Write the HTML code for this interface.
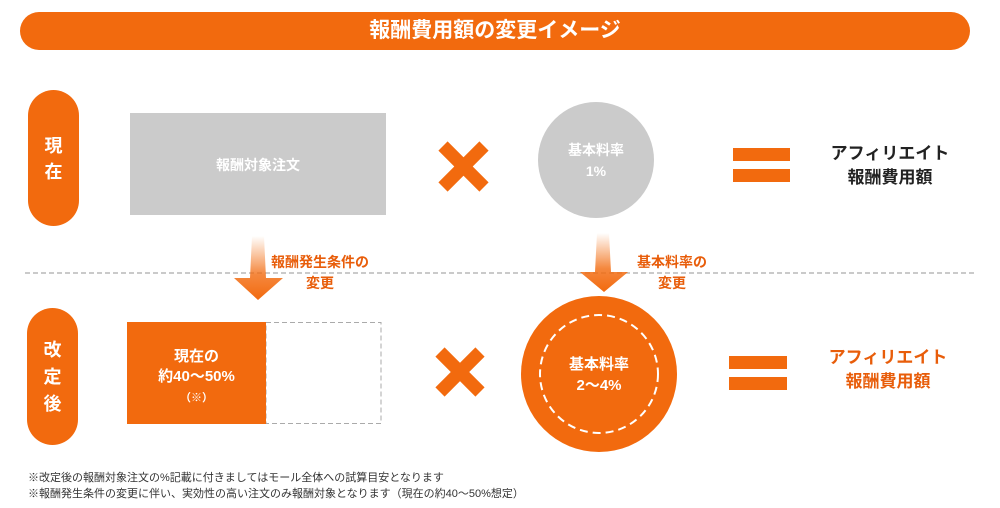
<!DOCTYPE html>
<html><head><meta charset="utf-8"><style>
body{margin:0;width:1000px;height:508px;background:#fff;overflow:hidden;font-family:"Liberation Sans","Noto Sans CJK JP",sans-serif;}
.a{position:absolute}
</style></head><body>
<svg class="a" style="left:0;top:0" width="1000" height="508" viewBox="0 0 1000 508">
<defs>
<linearGradient id="g" x1="0" y1="0" x2="0" y2="1"><stop offset="0" stop-color="#f26a0e" stop-opacity="0"/><stop offset="0.6" stop-color="#f26a0e" stop-opacity="0.8"/><stop offset="1" stop-color="#f26a0e"/></linearGradient>
</defs>
<rect x="20" y="12" width="950" height="38" rx="19" fill="#f26a0e"/>
<rect x="28" y="90" width="51" height="136" rx="25.5" fill="#f26a0e"/>
<rect x="27" y="308" width="51" height="137" rx="25.5" fill="#f26a0e"/>
<rect x="130" y="113" width="256" height="102" fill="#cbcbcb"/>
<circle cx="596" cy="160" r="58" fill="#cbcbcb"/>
<g stroke="#f26a0e" stroke-width="13"><line x1="443" y1="146" x2="484" y2="187"/><line x1="484" y1="146" x2="443" y2="187"/>
<line x1="440" y1="352" x2="480" y2="392"/><line x1="480" y1="352" x2="440" y2="392"/></g>
<rect x="733" y="148" width="57" height="13" fill="#f26a0e"/><rect x="733" y="169" width="57" height="13" fill="#f26a0e"/>
<rect x="729" y="356" width="58" height="13" fill="#f26a0e"/><rect x="729" y="377" width="58" height="13" fill="#f26a0e"/>
<line x1="25" y1="273" x2="975" y2="273" stroke="#aaa" stroke-width="1.2" stroke-dasharray="5,3"/>
<path d="M252 236 L264 236 L266 278 L283 278 L258 300 L234 278 L250 278 Z" fill="url(#g)"/>
<path d="M597 233 L609 233 L611 272 L628 272 L604 292 L580 272 L595 272 Z" fill="url(#g)"/>
<rect x="266" y="322.5" width="115" height="101" fill="none" stroke="#aaa" stroke-dasharray="5,3"/>
<rect x="127" y="322" width="139" height="102" fill="#f26a0e"/>
<circle cx="599" cy="374" r="78" fill="#f26a0e"/>
<circle cx="599" cy="374" r="59" fill="none" stroke="#fff" stroke-width="2" stroke-dasharray="8,5"/>
</svg>
<div class="a" style="left:20px;top:12px;width:950px;line-height:38px;text-align:center;color:#fff;font-weight:bold;font-size:21px">報酬費用額の変更イメージ</div>
<div class="a" style="left:28px;top:133px;width:51px;text-align:center;color:#fff;font-weight:bold;font-size:18px;line-height:26px">現<br>在</div>
<div class="a" style="left:27px;top:337px;width:51px;text-align:center;color:#fff;font-weight:bold;font-size:18px;line-height:27px">改<br>定<br>後</div>
<div class="a" style="left:130px;top:155px;width:256px;text-align:center;color:#fff;font-weight:bold;font-size:14px">報酬対象注文</div>
<div class="a" style="left:538px;top:140px;width:116px;text-align:center;color:#fff;font-weight:bold;font-size:14px;line-height:21px">基本料率<br>1%</div>
<div class="a" style="left:822px;top:142px;width:136px;text-align:center;color:#222;font-weight:bold;font-size:17px;line-height:24px">アフィリエイト<br>報酬費用額</div>
<div class="a" style="left:820px;top:346px;width:136px;text-align:center;color:#e85d0a;font-weight:bold;font-size:17px;line-height:24px">アフィリエイト<br>報酬費用額</div>
<div class="a" style="left:260px;top:252px;width:120px;text-align:center;color:#e85d0a;font-weight:bold;font-size:14px;line-height:21px">報酬発生条件の<br>変更</div>
<div class="a" style="left:612px;top:252px;width:120px;text-align:center;color:#e85d0a;font-weight:bold;font-size:14px;line-height:21px">基本料率の<br>変更</div>
<div class="a" style="left:127px;top:347px;width:139px;text-align:center;color:#fff;font-weight:bold;font-size:15px;line-height:20px">現在の<br>約40～50%<br><span style="font-size:11px">（※）</span></div>
<div class="a" style="left:540px;top:354px;width:118px;text-align:center;color:#fff;font-weight:bold;font-size:15px;line-height:21px">基本料率<br>2～4%</div>
<div class="a" style="left:28px;top:470px;color:#333;font-size:11px;line-height:16px;white-space:nowrap">※改定後の報酬対象注文の%記載に付きましてはモール全体への試算目安となります<br>※報酬発生条件の変更に伴い、実効性の高い注文のみ報酬対象となります（現在の約40～50%想定）</div>
</body></html>
